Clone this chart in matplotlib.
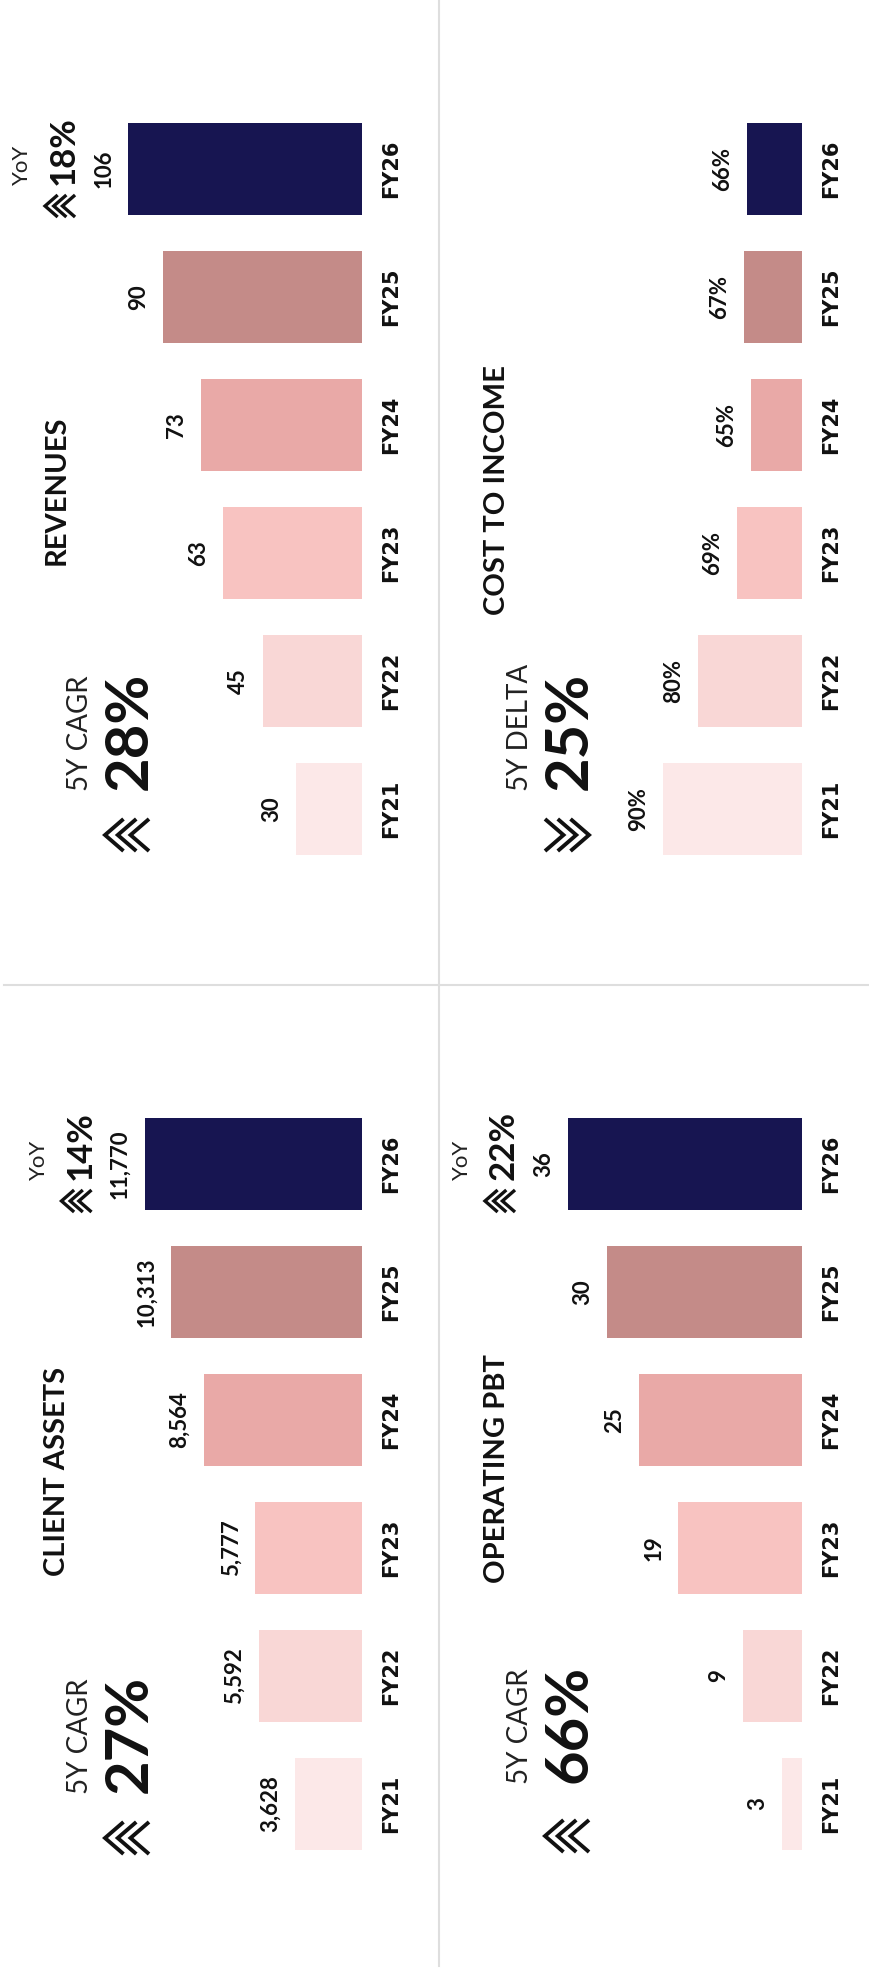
"""
    KPI dashboard: four bar panels, laid out sideways
"""

import matplotlib
matplotlib.use('Agg')
import matplotlib.pyplot as plt
from matplotlib.lines import Line2D

W, H = 870, 1984

years = ['FY21', 'FY22', 'FY23', 'FY24', 'FY25', 'FY26']
bar_colors = ['#fce8e8', '#f9d7d6', '#f8c3c1', '#e9a9a7', '#c48b88', '#171551']

revenues = [30, 45, 63, 73, 90, 106]
cost_to_income = [90, 80, 69, 65, 67, 66]
client_assets = [3628, 5592, 5777, 8564, 10313, 11770]
operating_pbt = [3, 9, 19, 25, 30, 36]

TITLE_FONT = ['Lato', 'DejaVu Sans']
NUM_FONT = ['Lato', 'DejaVu Sans']
COND_FONT = ['Liberation Sans Narrow', 'DejaVu Sans Condensed', 'DejaVu Sans']

fig = plt.figure(figsize=(W / 100, H / 100), dpi=100)


def fx(x):
    return x / W


def fy(y):
    return 1 - y / H


def chevrons(cx, cy, w, h, direction, lw=2.8):
    """ Three stacked arrow heads, direction -1 points left, +1 right """
    arm = w * 0.42
    step = (w - arm) / 2
    for i in range(3):
        tip = cx + direction * (w / 2 - i * step)
        back = tip - direction * arm
        xs = [fx(back), fx(tip), fx(back)]
        ys = [fy(cy - h / 2), fy(cy), fy(cy + h / 2)]
        fig.add_artist(Line2D(xs, ys, color='#111111', lw=lw,
                              solid_joinstyle='miter', solid_capstyle='butt',
                              transform=fig.transFigure))


def panel(x0, y0, title, values, fmt, xlim, head_label, head_value,
          direction, yoy=None, ty=0, tc=0, tt=0):
    # bars grow leftwards from the baseline at x0 + 362
    ax = fig.add_axes([fx(x0 + 102), fy(y0 + 873), 260 / W, 768 / H])
    bars = ax.barh(range(len(years)), values, height=0.72, color=bar_colors)
    ax.set_xlim(xlim[1], xlim[0])
    ax.set_ylim(-0.5, len(years) - 0.5)
    ax.bar_label(bars, [fmt.format(v) for v in values], padding=10,
                 rotation=90, fontsize=16, family=NUM_FONT,
                 fontweight='bold', color='#111111')

    ax.set_yticks(range(len(years)), years)
    ax.yaxis.tick_right()
    ax.tick_params(axis='y', length=0, pad=14)
    for lbl in ax.get_yticklabels():
        lbl.set_rotation(90)
        lbl.set_va('center')
        lbl.set_ha('left')
        lbl.set_family(COND_FONT)
        lbl.set_fontweight('bold')
        lbl.set_fontsize(15)
        lbl.set_color('#111111')
    ax.set_xticks([])
    for s in ax.spines.values():
        s.set_visible(False)
    ax.patch.set_visible(False)

    fig.text(fx(x0 + 57), fy(y0 + tt + 490), title, rotation=90,
             ha='center', va='center', fontsize=21, fontweight='bold',
             family=TITLE_FONT, color='#111111')
    fig.text(fx(x0 + 80), fy(y0 + ty + 791), head_label, rotation=90,
             ha='center', va='bottom', fontsize=20, fontweight='normal',
             family=NUM_FONT, color='#222222')
    fig.text(fx(x0 + 130), fy(y0 + ty + 790), head_value, rotation=90,
             ha='center', va='bottom', fontsize=43, fontweight='bold',
             family=NUM_FONT, color='#111111')
    chevrons(x0 + 127, y0 + tc + 835, 44, 32, direction)

    if yoy is not None:
        # YoY change sits just past the label of the last bar
        last = len(values) - 1
        ax.annotate('YoY', (values[last], last), xytext=(-106, -16),
                    textcoords='offset pixels', rotation=90, ha='center',
                    va='bottom', fontsize=16, fontweight='normal',
                    family=NUM_FONT, color='#222222')
        ax.annotate(yoy, (values[last], last), xytext=(-64, -16),
                    textcoords='offset pixels', rotation=90, ha='center',
                    va='bottom', fontsize=25, fontweight='bold',
                    family=NUM_FONT, color='#111111')
        # pixel position of the last bar end, for the small chevrons
        end_x, end_y = ax.transData.transform((values[last], last))
        chevrons(end_x - 68, H - end_y + 37, 30, 22, -1, lw=2.4)
    return ax


panel(0, 0, 'REVENUES', revenues, '{:.0f}', (0, 117.8),
      '5Y CAGR', '28%', -1, yoy='18%')
panel(440, 0, 'COST TO INCOME', cost_to_income, '{:.0f}%', (50.3, 124.6),
      '5Y DELTA', '25%', 1)
panel(0, 995, 'CLIENT ASSETS', client_assets, '{:,.0f}', (0, 14070),
      '5Y CAGR', '27%', -1, yoy='14%', ty=8, tc=8, tt=-14)
panel(440, 995, 'OPERATING PBT', operating_pbt, '{:.0f}', (0, 40),
      '5Y CAGR', '66%', -1, yoy='22%', ty=-2, tc=6, tt=-16)

# panel dividers
fig.add_artist(Line2D([fx(439), fx(439)], [fy(0), fy(1966)], color='#dedede',
                      lw=1.5, transform=fig.transFigure))
fig.add_artist(Line2D([fx(4), fx(W)], [fy(985), fy(985)], color='#dedede',
                      lw=1.5, transform=fig.transFigure))

fig.savefig('out.png', dpi=100, facecolor='white')
